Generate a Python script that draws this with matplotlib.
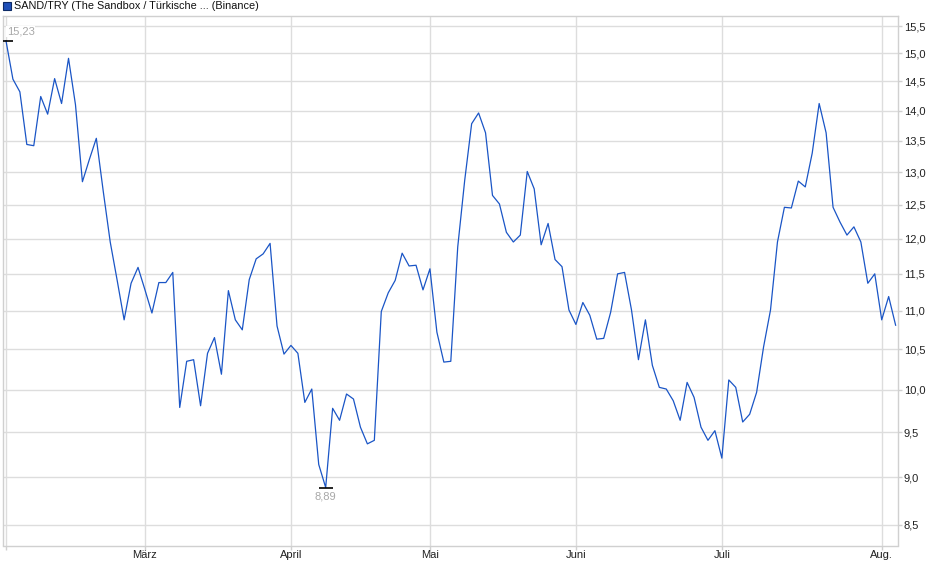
import numpy as np
import matplotlib
matplotlib.use("Agg")
import matplotlib.pyplot as plt
from matplotlib.ticker import FixedLocator, FuncFormatter, NullLocator
from matplotlib.patches import Rectangle

plt.rcParams['font.family'] = ['Liberation Sans', 'DejaVu Sans']

# SAND/TRY closing prices, one value per trading point
prices = [
    15.23, 14.54, 14.32, 13.44, 13.42, 14.24, 13.94, 14.55, 14.12, 14.91,
    14.10, 12.85, 13.20, 13.54, 12.70, 11.95, 11.41, 10.88, 11.37, 11.59,
    11.28, 10.97, 11.38, 11.38, 11.52, 9.79, 10.35, 10.37, 9.81, 10.45,
    10.65, 10.19, 11.27, 10.88, 10.75, 11.42, 11.71, 11.78, 11.93, 10.80,
    10.44, 10.55, 10.45, 9.85, 10.01, 9.14, 8.89, 9.78, 9.64, 9.95,
    9.89, 9.56, 9.37, 9.41, 10.99, 11.24, 11.41, 11.79, 11.61, 11.62,
    11.28, 11.57, 10.72, 10.34, 10.35, 11.88, 12.87, 13.78, 13.96, 13.63,
    12.64, 12.51, 12.09, 11.95, 12.05, 13.01, 12.74, 11.91, 12.22, 11.70,
    11.60, 11.01, 10.82, 11.11, 10.94, 10.63, 10.64, 10.98, 11.50, 11.52,
    11.01, 10.37, 10.88, 10.30, 10.03, 10.01, 9.87, 9.64, 10.09, 9.91,
    9.56, 9.41, 9.52, 9.21, 10.12, 10.03, 9.62, 9.71, 9.97, 10.53,
    11.01, 11.95, 12.46, 12.45, 12.86, 12.77, 13.30, 14.12, 13.63, 12.46,
    12.24, 12.05, 12.17, 11.95, 11.37, 11.50, 10.88, 11.19, 10.81,
]

# month gridlines (index of the first point of each month)
month_pos = [0, 20, 41, 61, 82, 103, 126]
month_labels = ["", "März", "April", "Mai", "Juni", "Juli", "Aug."]

y_ticks = [8.5, 9.0, 9.5, 10.0, 10.5, 11.0, 11.5, 12.0, 12.5, 13.0, 13.5, 14.0, 14.5, 15.0, 15.5]

title = "SAND/TRY (The Sandbox / Türkische ... (Binance)"

W, H = 940, 579
fig = plt.figure(figsize=(W / 100, H / 100), dpi=100)
ax = fig.add_axes([2.7 / W, 1 - 545.5 / H, 895 / W, 529.5 / H])

x = np.arange(len(prices))
ax.plot(x, prices, color='#1a55c6', lw=0.9, zorder=3)

ax.set_yscale('log')
ax.set_ylim(8.29, 15.69)
ax.set_xlim(-0.47, 128.3)

ax.yaxis.set_major_locator(FixedLocator(y_ticks))
ax.yaxis.set_minor_locator(NullLocator())
ax.yaxis.set_major_formatter(FuncFormatter(lambda v, p: f"{v:.1f}".replace('.', ',')))
ax.yaxis.tick_right()

ax.set_xticks(month_pos)
ax.set_xticklabels(month_labels)
ax.xaxis.set_minor_locator(NullLocator())

ax.grid(True, color='#dddddd', lw=1)
ax.set_axisbelow(True)
for s in ax.spines.values():
    s.set_color('#d0d0d0')
    s.set_linewidth(1)

ax.tick_params(axis='y', which='both', length=3, width=1, color='#d0d0d0',
               labelsize=8, pad=1.5, labelcolor='#222222')
ax.tick_params(axis='x', which='both', length=3, width=1, color='#d0d0d0',
               labelsize=8, pad=0.5, labelcolor='#222222')

# high / low markers
p = np.array(prices)
i_hi, i_lo = int(p.argmax()), int(p.argmin())
ax.plot([i_hi, i_lo], [p[i_hi], p[i_lo]], ls='none', marker='_', ms=10, mew=1.2,
        color='black', zorder=4)
fmt = lambda v: f"{v:.2f}".replace('.', ',')
ax.annotate(fmt(p[i_hi]), (i_hi, p[i_hi]), xytext=(0.5, 3), textcoords='offset points',
            ha='left', va='bottom', fontsize=8, color='#a8a8a8',
            bbox=dict(fc='white', ec='none', pad=0.3), zorder=5)
ax.annotate(fmt(p[i_lo]), (i_lo, p[i_lo]), xytext=(0, -3), textcoords='offset points',
            ha='center', va='top', fontsize=8, color='#a8a8a8', zorder=5)

# legend-like title
fig.patches.append(Rectangle((3 / W, 1 - 10 / H), 7.5 / W, 7.5 / H, transform=fig.transFigure,
                             facecolor='#1f50b8', edgecolor='#0d2a66', lw=0.8))
fig.text(14 / W, 1 - 6.3 / H, title, fontsize=7.8, color='#111111', va='center', ha='left')

fig.savefig("out.png", dpi=100)
